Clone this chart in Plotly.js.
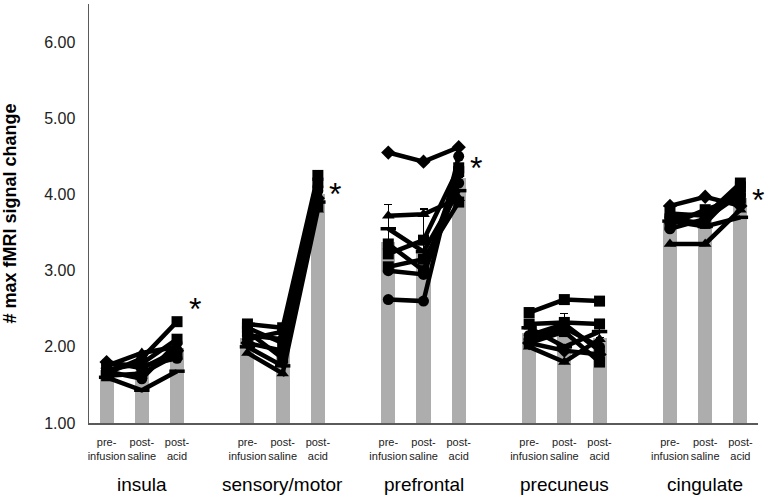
<!DOCTYPE html>
<html>
<head>
<meta charset="utf-8">
<script src="https://cdn.plot.ly/plotly-3.0.1.min.js"></script>
<style>html,body{margin:0;padding:0;background:#fff;}#chart{width:765px;height:497px;}</style>
</head>
<body>
<div id="chart"></div>
<script>
// ---- data ----
const regions = ['insula', 'sensory/motor', 'prefrontal', 'precuneus', 'cingulate'];
const conditions = ['pre-<br>infusion', 'post-<br>saline', 'post-<br>acid'];

// group means (gray bars), order: region x condition
const barMeans = [1.70, 1.68, 1.98,  2.12, 1.95, 4.00,  3.37, 3.25, 4.22,  2.18, 2.20, 2.12,  3.63, 3.66, 3.95];
const barErrPlus = [0.05, 0.10, 0.12,  0.07, 0.12, 0.10,  0.50, 0.56, 0.15,  0.10, 0.24, 0.12,  0.10, 0.15, 0.08];

// individual subjects
const subj1 = [1.80, 1.72, 1.95,  2.05, 1.95, 3.95,  4.55, 4.43, 4.62,  2.05, 1.95, 1.90,  3.85, 3.97, 3.85];
const subj2 = [1.68, 1.58, 2.05,  2.15, 2.10, 4.05,  2.62, 2.60, 4.50,  2.10, 2.25, 2.00,  3.70, 3.75, 4.05];
const subj3 = [1.75, 1.92, 2.00,  1.92, 1.65, 3.80,  3.72, 3.74, 3.95,  2.00, 1.80, 2.10,  3.35, 3.35, 3.80];
const subj4 = [1.65, 1.85, 2.33,  2.30, 2.25, 4.25,  3.35, 3.00, 4.30,  2.45, 2.62, 2.60,  3.75, 3.72, 4.15];
const subj5 = [1.70, 1.78, 2.10,  2.25, 2.05, 4.15,  3.22, 3.40, 4.35,  2.30, 2.32, 2.30,  3.68, 3.62, 4.10];
const subj6 = [1.62, 1.65, 1.90,  2.20, 1.85, 3.85,  3.05, 3.15, 3.90,  2.05, 2.20, 1.80,  3.60, 3.80, 3.95];
const subj7 = [1.60, 1.43, 1.68,  2.00, 1.75, 3.90,  3.55, 3.25, 4.05,  2.25, 2.00, 2.20,  3.65, 3.58, 3.70];
const subj8 = [1.78, 1.75, 1.85,  2.10, 2.20, 4.10,  3.00, 2.95, 4.15,  2.15, 2.30, 1.95,  3.55, 3.68, 4.00];

const subjects = [subj1, subj2, subj3, subj4, subj5, subj6, subj7, subj8];
const symbols = ['diamond', 'circle', 'triangle-up', 'square', 'square', 'square', 'line-ew', 'circle'];

// significance markers (region index with asterisk, value level)
const starRegions = [0, 1, 2, 4];
const starLevels = [2.49, 4.0, 4.35, 3.93];

// ---- build traces ----
const xs = [], tickText = [];
regions.forEach((r, g) => conditions.forEach((c, i) => { xs.push(g * 4 + i); tickText.push(c); }));

function withGaps(vals) {
  const x = [], y = [];
  regions.forEach((r, g) => {
    conditions.forEach((c, i) => { x.push(g * 4 + i); y.push(vals[g * 3 + i]); });
    x.push(null); y.push(null);
  });
  return {x, y};
}

const traces = [{
  type: 'bar', x: xs, y: barMeans, width: 0.4,
  marker: {color: '#adadad'},
  error_y: {type: 'data', symmetric: false, array: barErrPlus, arrayminus: barErrPlus.map(() => 0),
            color: '#000', thickness: 1.5, width: 4},
  hoverinfo: 'y', showlegend: false
}];

subjects.forEach((s, k) => {
  const d = withGaps(s);
  traces.push({
    type: 'scatter', mode: 'lines+markers', x: d.x, y: d.y, connectgaps: false,
    line: {color: '#000', width: 4.5},
    marker: {symbol: symbols[k], size: symbols[k] === 'line-ew' ? 11 : 11, color: '#000',
             line: {color: '#000', width: symbols[k] === 'line-ew' ? 3.5 : 0}},
    showlegend: false
  });
});

const annotations = [];
regions.forEach((r, g) => annotations.push({
  text: r, x: g * 4 + 1, xref: 'x', y: -0.146, yref: 'paper', yanchor: 'middle',
  showarrow: false, font: {size: 19, color: '#000'}
}));
starRegions.forEach((g, k) => annotations.push({
  text: '*', x: g * 4 + 2.5, xref: 'x', y: starLevels[k], yref: 'y', yanchor: 'middle',
  showarrow: false, font: {size: 32, color: '#000'}
}));

const layout = {
  width: 765, height: 497,
  margin: {l: 89, r: 7, t: 4, b: 74},
  paper_bgcolor: '#fff', plot_bgcolor: '#fff',
  font: {family: 'Liberation Sans, Arial, sans-serif', color: '#000'},
  bargap: 0,
  xaxis: {
    range: [-0.5, 18.5], tickvals: xs, ticktext: tickText, ticks: '', tickangle: 0,
    tickfont: {size: 11, color: '#222'}, ticklabelstandoff: 8, showgrid: false, zeroline: false,
    showline: true, linecolor: '#5a5a5a', linewidth: 1.5, fixedrange: true
  },
  yaxis: {
    range: [1, 6.5], tickvals: [1, 2, 3, 4, 5, 6], ticktext: ['1.00', '2.00', '3.00', '4.00', '5.00', '6.00'],
    ticks: '', tickfont: {size: 16, color: '#222'}, ticklabelstandoff: 9,
    showgrid: false, zeroline: false, showline: true, linecolor: '#5a5a5a', linewidth: 1.5,
    title: {text: '<b># max fMRI signal change</b>', font: {size: 18, color: '#000'}, standoff: 24},
    fixedrange: true
  },
  annotations: annotations
};

Plotly.newPlot('chart', traces, layout, {staticPlot: true, displayModeBar: false});
</script>
</body>
</html>
